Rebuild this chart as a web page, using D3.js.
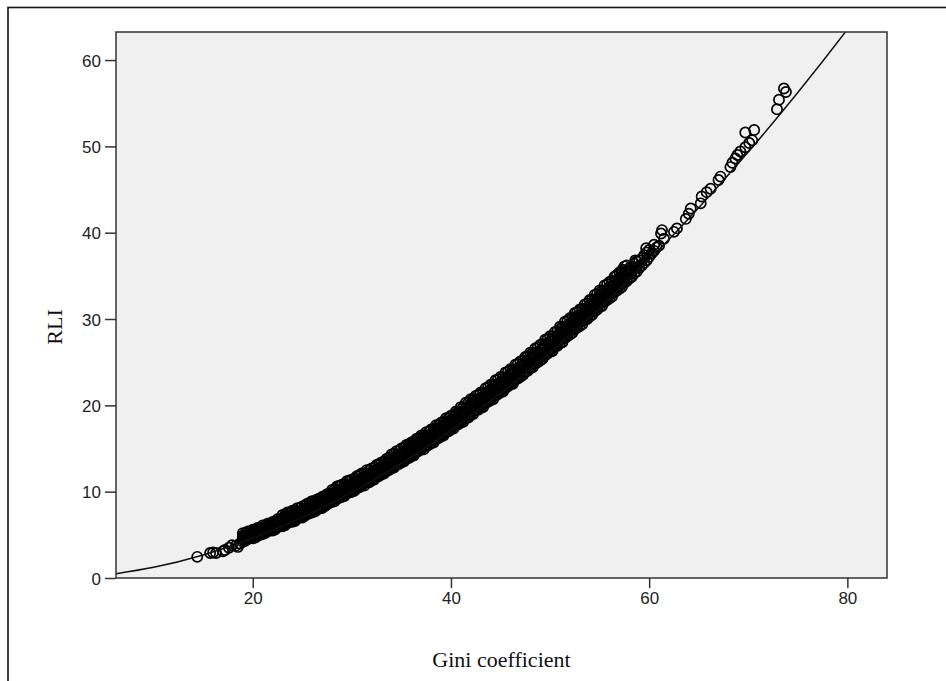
<!DOCTYPE html>
<meta charset="utf-8">
<head>
<script src="https://d3js.org/d3.v7.min.js"></script>
<style>
  body { margin: 0; background: #fff; }
  .tick text { font-family: "Liberation Sans", Arial, sans-serif; font-size: 17px; fill: #222; }
  .tick line { stroke: #333; stroke-width: 1.5; }
  .title { font-family: "Liberation Serif", "Times New Roman", serif; font-size: 22px; fill: #111; }
</style>
</head>
<body>
<svg></svg>
<script>

// axes
var xTicks = [20, 40, 60, 80];
var yTicks = [0, 10, 20, 30, 40, 50, 60];
var xDomain = [6.2, 84];
var yDomain = [0, 63.25];

// fitted curve
var fitGini = [6.2, 10, 15, 20, 25, 30, 35, 40, 45, 50, 55, 60, 65, 70, 75, 80, 82];
var fitRli  = [0.50, 1.24, 2.67, 4.60, 7.02, 9.92, 13.28, 17.10, 21.37, 26.09, 31.25, 36.85, 42.89, 49.35, 56.24, 63.55, 66.6];

// isolated cases at the low end [gini, rli]
var lowCases = [[14.4,2.45],[15.7,2.9],[16.0,2.95],[16.3,2.9],[17.0,3.1],[17.2,3.25],[17.6,3.5],[17.9,3.8],[18.3,3.75],[18.5,3.6],[18.7,4.0]];

// dense band: [gini, rli, rli, ...]
var band = [
  [19.00,4.2,4.5,4.7,4.9,5.2],[19.25,4.3,4.5,4.7,4.9,5.2],[19.50,4.5,4.7,4.9,5.1,5.4],[19.75,4.6,4.7,4.9,5.1,5.4],
  [20.00,4.6,4.9,5.1,5.3,5.6],[20.25,4.7,4.9,5.1,5.3,5.6],[20.50,4.9,5.1,5.3,5.5,5.8],[20.75,5.0,5.1,5.3,5.5,5.8],
  [21.00,5.1,5.4,5.6,5.8,6.1],[21.25,5.2,5.4,5.6,5.8,6.1],[21.50,5.4,5.6,5.8,6.0,6.3],[21.75,5.5,5.6,5.8,6.0,6.3],
  [22.00,5.5,5.8,6.0,6.2,6.5],[22.25,5.6,5.8,6.0,6.2,6.5],[22.50,5.9,6.1,6.3,6.5,6.8],[22.75,6.0,6.1,6.3,6.5,6.8],
  [23.00,6.0,6.3,6.6,6.9,7.3],[23.25,6.1,6.3,6.6,6.9,7.3],[23.50,6.4,6.7,7.0,7.2,7.6],[23.75,6.5,6.7,6.9,7.2,7.6],
  [24.00,6.5,6.8,7.1,7.4,7.8],[24.25,6.6,6.8,7.1,7.4,7.8],[24.50,6.9,7.2,7.5,7.7,8.1],[24.75,7.0,7.2,7.4,7.7,8.1],
  [25.00,7.0,7.3,7.6,7.9,8.3],[25.25,7.2,7.4,7.7,8.0,8.4],[25.50,7.4,7.7,8.0,8.2,8.6],[25.75,7.5,7.7,7.9,8.2,8.6],
  [26.00,7.6,7.9,8.2,8.5,8.9],[26.25,7.7,7.9,8.2,8.5,8.9],[26.50,7.9,8.2,8.5,8.7,9.1],[26.75,8.1,8.3,8.5,8.8,9.2],
  [27.00,8.1,8.4,8.7,9.0,9.4],[27.25,8.3,8.5,8.8,9.1,9.5],[27.50,8.5,8.8,9.1,9.3,9.7],[27.75,8.7,8.9,9.1,9.4,9.8],
  [28.00,8.8,9.1,9.4,9.7,10.2],[28.25,8.9,9.2,9.5,9.8,10.3],[28.50,9.2,9.5,9.8,10.1,10.6],[28.75,9.3,9.5,9.9,10.2,10.7],
  [29.00,9.4,9.7,10.0,10.3,10.8],[29.25,9.5,9.8,10.1,10.4,10.9],[29.50,9.8,10.1,10.4,10.7,11.2],[29.75,9.9,10.1,10.5,10.8,11.3],
  [30.00,10.0,10.3,10.6,10.9,11.4],[30.25,10.1,10.4,10.7,11.0,11.5],[30.50,10.4,10.7,11.0,11.3,11.8],[30.75,10.5,10.7,11.1,11.4,11.9],
  [31.00,10.7,11.0,11.3,11.6,12.1],[31.25,10.7,11.0,11.3,11.6,12.1],[31.50,11.1,11.4,11.7,12.0,12.5],[31.75,11.1,11.3,11.7,12.0,12.5],
  [32.00,11.3,11.6,11.9,12.2,12.7],[32.25,11.4,11.7,12.0,12.3,12.8],[32.50,11.7,12.0,12.3,12.6,13.1],[32.75,11.8,12.0,12.4,12.7,13.2],
  [33.00,12.0,12.3,12.6,12.9,13.4],[33.25,12.1,12.4,12.7,13.0,13.5],[33.50,12.4,12.7,13.0,13.3,13.8],[33.75,12.5,12.7,13.1,13.4,13.9],
  [34.00,12.7,13.0,13.4,13.8,14.3],[34.25,12.8,13.1,13.5,13.9,14.4],[34.50,13.1,13.5,13.8,14.2,14.7],[34.75,13.2,13.5,13.9,14.2,14.7],
  [35.00,13.4,13.7,14.1,14.5,15.0],[35.25,13.5,13.8,14.2,14.6,15.1],[35.50,13.9,14.3,14.6,14.9,15.4],[35.75,13.9,14.2,14.6,14.9,15.4],
  [36.00,14.1,14.4,14.8,15.2,15.7],[36.25,14.2,14.5,14.9,15.3,15.8],[36.50,14.6,15.0,15.3,15.6,16.1],[36.75,14.7,15.0,15.3,15.7,16.2],
  [37.00,14.9,15.2,15.6,16.0,16.5],[37.25,14.9,15.2,15.6,16.0,16.5],[37.50,15.3,15.7,16.0,16.4,16.9],[37.75,15.4,15.7,16.1,16.4,16.9],
  [38.00,15.6,15.9,16.3,16.7,17.2],[38.25,15.7,16.0,16.4,16.8,17.3],[38.50,16.1,16.5,16.8,17.2,17.7],[38.75,16.2,16.5,16.9,17.2,17.7],
  [39.00,16.4,16.7,17.1,17.5,18.0],[39.25,16.5,16.8,17.2,17.6,18.1],[39.50,16.9,17.3,17.6,18.0,18.5],[39.75,17.0,17.3,17.7,18.0,18.5],
  [40.00,17.2,17.5,17.9,18.3,18.8],[40.25,17.3,17.6,18.0,18.4,18.9],[40.50,17.7,18.1,18.4,18.8,19.3],[40.75,17.8,18.1,18.5,18.8,19.3],
  [41.00,18.0,18.4,18.8,19.2,19.8],[41.25,18.1,18.4,18.8,19.2,19.8],[41.50,18.5,18.9,19.3,19.7,20.3],[41.75,18.6,18.9,19.3,19.7,20.3],
  [42.00,18.9,19.3,19.7,20.1,20.7],[42.25,19.0,19.3,19.7,20.1,20.7],[42.50,19.4,19.8,20.2,20.5,21.1],[42.75,19.5,19.8,20.2,20.6,21.2],
  [43.00,19.7,20.1,20.5,20.9,21.5],[43.25,19.8,20.1,20.5,20.9,21.5],[43.50,20.3,20.7,21.1,21.4,22.0],[43.75,20.4,20.7,21.1,21.5,22.1],
  [44.00,20.6,21.0,21.4,21.8,22.4],[44.25,20.7,21.0,21.4,21.8,22.4],[44.50,21.1,21.5,21.9,22.3,22.9],[44.75,21.3,21.6,22.0,22.4,23.0],
  [45.00,21.5,21.9,22.3,22.7,23.3],[45.25,21.6,21.9,22.3,22.7,23.3],[45.50,22.0,22.4,22.8,23.2,23.8],[45.75,22.2,22.5,22.9,23.3,23.9],
  [46.00,22.4,22.8,23.2,23.6,24.2],[46.25,22.5,22.8,23.2,23.6,24.2],[46.50,23.0,23.4,23.8,24.1,24.7],[46.75,23.1,23.4,23.8,24.2,24.8],
  [47.00,23.3,23.7,24.1,24.5,25.1],[47.25,23.5,23.8,24.2,24.6,25.2],[47.50,23.9,24.3,24.7,25.0,25.6],[47.75,24.0,24.3,24.7,25.1,25.7],
  [48.00,24.3,24.7,25.1,25.5,26.1],[48.25,24.4,24.7,25.1,25.5,26.1],[48.50,24.8,25.2,25.6,26.0,26.6],[48.75,25.0,25.3,25.7,26.1,26.7],
  [49.00,25.2,25.6,26.0,26.4,27.0],[49.25,25.4,25.7,26.1,26.5,27.1],[49.50,25.8,26.2,26.6,27.0,27.6],[49.75,26.0,26.3,26.7,27.1,27.7],
  [50.00,26.2,26.6,27.0,27.4,28.0],[50.25,26.3,26.6,27.0,27.4,28.0],[50.50,26.8,27.2,27.6,27.9,28.5],[50.75,26.9,27.2,27.6,28.0,28.6],
  [51.00,27.2,27.6,28.0,28.5,29.1],[51.25,27.3,27.7,28.1,28.5,29.1],[51.50,27.8,28.2,28.6,29.1,29.7],[51.75,28.0,28.3,28.7,29.2,29.8],
  [52.00,28.2,28.6,29.0,29.5,30.1],[52.25,28.4,28.8,29.2,29.6,30.2],[52.50,28.8,29.2,29.6,30.1,30.7],[52.75,29.0,29.3,29.7,30.2,30.8],
  [53.00,29.2,29.6,30.0,30.5,31.1],[53.25,29.4,29.8,30.2,30.6,31.2],[53.50,29.9,30.3,30.7,31.1,31.7],[53.75,30.0,30.4,30.8,31.2,31.8],
  [54.00,30.3,30.7,31.1,31.6,32.2],[54.25,30.5,30.9,31.3,31.7,32.3],[54.50,30.9,31.3,31.7,32.2,32.8],[54.75,31.1,31.4,31.8,32.3,32.9],
  [55.00,31.4,31.8,32.2,32.7,33.3],[55.25,31.5,31.9,32.3,32.7,33.3],[55.50,32.0,32.4,32.8,33.3,33.9],[55.75,32.2,32.5,32.9,33.4,34.0],
  [56.00,32.4,32.8,33.2,33.7,34.3],[56.25,32.6,33.0,33.4,33.8,34.4],[56.50,33.1,33.5,33.9,34.3,34.9],[56.75,33.3,33.6,34.0,34.5,35.1],
  [57.00,33.5,33.9,34.3,34.8,35.4],[57.25,33.7,34.1,34.5,34.9,35.5],[57.50,34.2,34.6,35.0,35.5,36.1],[57.75,34.4,34.7,35.1,35.6,36.2],
  [58.00,34.7,35.2,35.9],[58.25,34.9,35.5,36.1],[58.50,35.3,35.9,36.4],[58.75,35.5,36.0,36.7],
  [59.00,35.9,36.8],[59.25,36.2,37.0],[59.50,36.5,37.4],[59.75,36.8,37.7],
  [60.00,37.2,38.0],[60.25,37.6],[60.50,37.9,38.6],[60.75,38.3],
  [61.00,38.5],[61.50,39.3]
];

// cases sitting above the band
var upperCases = [[23.4,7.3],[25.9,8.84],[29.75,10.8],[33.3,13.4],[36.1,15.6],[38.5,17.3],[40.8,19.3],[42.2,20.6],
  [44.4,22.4],[46.2,24.1],[48.1,25.4],[49.1,26.4],[51.1,28.9],[52.9,30.1],[54.9,32.4],[57.3,35.7],[58.6,36.8],[59.7,38.2]];

// high-inequality tail
var tailCases = [[61.2,39.9],[61.3,40.3],[62.5,40.1],[62.8,40.5],[63.7,41.6],[64.0,42.2],[64.2,42.8],[65.2,43.4],
  [65.3,44.2],[65.8,44.7],[66.2,45.1],[67.0,46.1],[67.2,46.5],[68.2,47.6],[68.4,48.1],[68.7,48.6],[68.9,49.0],
  [69.2,49.4],[69.7,49.9],[70.1,50.4],[70.4,50.7],[69.7,51.6],[70.6,51.9],[72.9,54.3],[73.1,55.4],[73.6,56.7],[73.8,56.3]];

var width = 946, height = 681;
var plot = { left: 116, right: 887, top: 32, bottom: 578 };

var svg = d3.select('svg')
    .attr('width', width)
    .attr('height', height);

var x = d3.scaleLinear().domain(xDomain).range([plot.left, plot.right]);
var y = d3.scaleLinear().domain(yDomain).range([plot.bottom, plot.top]);

// outer frame
svg.append('rect')
    .attr('x', 8).attr('y', 7.5)
    .attr('width', 960).attr('height', 700)
    .attr('fill', 'none')
    .attr('stroke', '#111')
    .attr('stroke-width', 1.6);

svg.append('clipPath').attr('id', 'plotclip')
  .append('rect')
    .attr('x', plot.left).attr('y', plot.top)
    .attr('width', plot.right - plot.left).attr('height', plot.bottom - plot.top);

svg.append('rect')
    .attr('x', plot.left).attr('y', plot.top)
    .attr('width', plot.right - plot.left).attr('height', plot.bottom - plot.top)
    .attr('fill', '#f0f0f0');

// flatten all cases
var cases = lowCases.slice();
band.forEach(function(row) {
    for (var i = 1; i < row.length; i++) cases.push([row[0], row[i]]);
});
cases = cases.concat(upperCases, tailCases);

var g = svg.append('g').attr('clip-path', 'url(#plotclip)');

g.selectAll('circle')
    .data(cases)
    .enter().append('circle')
    .attr('cx', function(d) { return x(d[0]); })
    .attr('cy', function(d) { return y(d[1]); })
    .attr('r', 5.1)
    .attr('fill', 'none')
    .attr('stroke', '#000')
    .attr('stroke-width', 1.7);

var line = d3.line()
    .x(function(d, i) { return x(fitGini[i]); })
    .y(function(d) { return y(d); })
    .curve(d3.curveMonotoneX);

g.append('path')
    .attr('d', line(fitRli))
    .attr('fill', 'none')
    .attr('stroke', '#111')
    .attr('stroke-width', 1.5);

// plot border
svg.append('rect')
    .attr('x', plot.left).attr('y', plot.top)
    .attr('width', plot.right - plot.left).attr('height', plot.bottom - plot.top)
    .attr('fill', 'none')
    .attr('stroke', '#333')
    .attr('stroke-width', 1.5);

var xAxis = svg.append('g')
    .attr('transform', 'translate(0,' + plot.bottom + ')')
    .call(d3.axisBottom(x).tickValues(xTicks).tickSize(10).tickPadding(4));
xAxis.select('.domain').remove();

var yAxis = svg.append('g')
    .attr('transform', 'translate(' + plot.left + ',0)')
    .call(d3.axisLeft(y).tickValues(yTicks).tickSize(11).tickPadding(4));
yAxis.select('.domain').remove();
yAxis.selectAll('.tick text').attr('dy', '0.36em');

svg.append('text')
    .attr('class', 'title')
    .attr('x', (plot.left + plot.right) / 2)
    .attr('y', 667)
    .attr('text-anchor', 'middle')
    .text('Gini coefficient');

svg.append('text')
    .attr('class', 'title')
    .attr('transform', 'translate(62,327)rotate(-90)')
    .attr('text-anchor', 'middle')
    .text('RLI');

</script>
</body>
</html>
